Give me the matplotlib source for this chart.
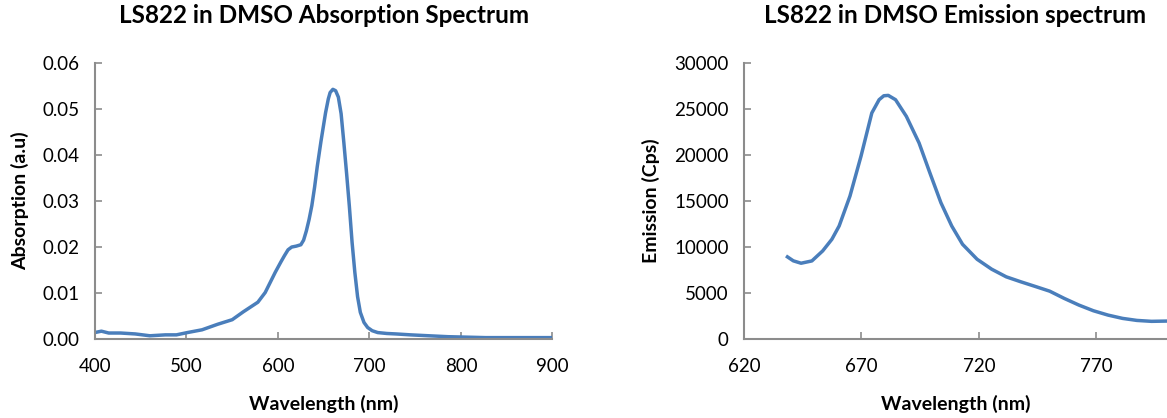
import numpy as np
import matplotlib.pyplot as plt

# absorption spectrum
abs_nm = [401, 407, 415, 428, 444, 460, 477, 489, 501, 517, 534, 550, 562, 578,
          586, 597, 603, 607, 611, 615, 620, 625, 628, 631, 634, 637, 640, 643,
          647, 652, 655, 657, 660, 663, 666, 669, 672, 675, 678, 681, 684, 687,
          690, 694, 698, 703, 709, 719, 729, 745, 765, 786, 827, 867, 900]
abs_val = [0.00145, 0.0017, 0.0013, 0.0013, 0.0011, 0.0007, 0.0009, 0.0009,
           0.0014, 0.0020, 0.0032, 0.0042, 0.0059, 0.0080, 0.0101, 0.0145,
           0.0167, 0.0181, 0.0194, 0.0200, 0.0202, 0.0205, 0.0215, 0.0235,
           0.0260, 0.0290, 0.0330, 0.0376, 0.0430, 0.0492, 0.0522, 0.0536,
           0.0543, 0.0540, 0.0526, 0.0490, 0.0427, 0.0360, 0.0289, 0.0210,
           0.0145, 0.0092, 0.0058, 0.0036, 0.0025, 0.0018, 0.0014, 0.0012,
           0.0011, 0.0009, 0.0007, 0.0005, 0.0003, 0.0003, 0.0003]

# emission spectrum
em_nm = [638.5, 641.0, 644.3, 648.9, 653.5, 657.4, 660.5, 665.1, 669.8, 674.4,
         677.5, 679.5, 681.4, 684.5, 689.1, 694.5, 699.1, 703.8, 708.4, 713.0,
         719.2, 725.4, 731.6, 737.8, 744.0, 750.1, 756.3, 762.5, 768.7, 774.9,
         781.1, 787.2, 793.4, 800.0]
em_val = [8930, 8500, 8240, 8490, 9580, 10840, 12290, 15540, 19880, 24580,
          26020, 26450, 26490, 26020, 24210, 21320, 18070, 14820, 12290, 10300,
          8670, 7590, 6760, 6220, 5710, 5200, 4410, 3690, 3070, 2600, 2240,
          2020, 1920, 1950]

plt.rcParams['font.family'] = ['Lato', 'DejaVu Sans']
blue = '#4a7ebb'
grey = '#8c8c8c'

fig = plt.figure(figsize=(11.67, 4.18), dpi=100)
ax1 = fig.add_axes([0.0814, 0.189, 0.392, 0.660])
ax2 = fig.add_axes([0.6375, 0.189, 0.3625, 0.660])

def style(ax):
    for s in ['top', 'right']:
        ax.spines[s].set_visible(False)
    for s in ['left', 'bottom']:
        ax.spines[s].set_color(grey)
        ax.spines[s].set_linewidth(1.5)
    ax.tick_params(direction='in', color=grey, width=1.2, length=5,
                   labelsize=13.5, pad=11)
    ax.tick_params(axis='x', pad=14)

ax1.plot(abs_nm, abs_val, color=blue, lw=2.5)
ax1.set_xlim(400, 900)
ax1.set_ylim(0, 0.06)
ax1.set_xticks([400, 500, 600, 700, 800, 900])
ax1.set_yticks(np.arange(0, 0.061, 0.01))
ax1.set_yticklabels(['0.00', '0.01', '0.02', '0.03', '0.04', '0.05', '0.06'])
ax1.set_xlabel('Wavelength (nm)', fontsize=14, fontweight='bold', labelpad=14)
ax1.set_ylabel('Absorption (a.u)', fontsize=14, fontweight='bold', labelpad=10)
ax1.set_title('LS822 in DMSO Absorption Spectrum', fontsize=17.5, fontweight='bold', pad=29)
style(ax1)

ax2.plot(em_nm, em_val, color=blue, lw=2.5)
ax2.set_xlim(620, 800)
ax2.set_ylim(0, 30000)
ax2.set_xticks([620, 670, 720, 770])
ax2.set_yticks(range(0, 30001, 5000))
ax2.set_xlabel('Wavelength (nm)', fontsize=14, fontweight='bold', labelpad=14)
ax2.set_ylabel('Emission (Cps)', fontsize=14, fontweight='bold', labelpad=10)
ax2.set_title('LS822 in DMSO Emission spectrum', fontsize=17.5, fontweight='bold', pad=29)
style(ax2)

fig.savefig('out.png', dpi=100)
